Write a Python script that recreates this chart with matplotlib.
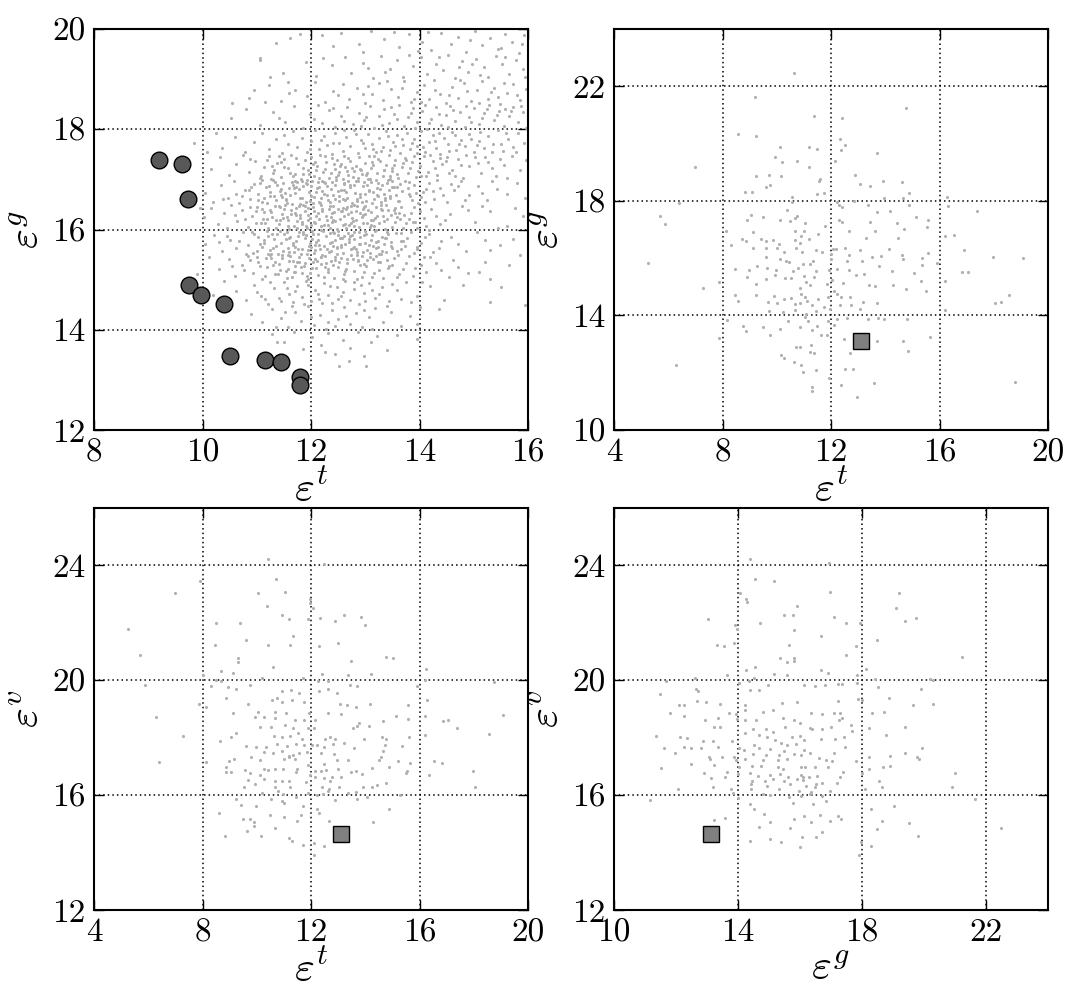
import matplotlib
matplotlib.use("Agg")
import matplotlib.pyplot as plt
import numpy as np

# ---- data (estimated) ----
# top-left: eps_t vs eps_g, dense cloud
tl_cloud = [
    (11.62,19.82),(12.20,19.88),(12.55,19.93),(12.88,19.71),(13.10,19.96),(13.35,19.80),(13.62,19.64),(13.81,19.90),(14.05,19.75),(14.22,19.58),
    (14.40,19.92),(14.58,19.70),(14.71,19.85),(14.86,19.55),(15.02,19.97),(15.15,19.68),(15.30,19.83),(15.44,19.60),(15.57,19.90),(15.70,19.74),
    (15.83,19.52),(15.92,19.88),(14.93,19.79),(13.97,19.57),(12.95,19.54),(15.50,19.62),(14.15,19.95),(13.52,19.94),(15.88,19.70),(12.40,19.66),
    (11.05,19.42),(11.48,19.13),(11.90,19.35),(12.10,19.06),(12.38,19.28),(12.62,19.45),(12.74,19.12),(12.96,19.33),(13.14,19.03),(13.28,19.47),
    (13.45,19.21),(13.58,19.38),(13.70,19.05),(13.88,19.26),(14.02,19.44),(14.14,19.10),(14.30,19.31),(14.44,19.18),(14.53,19.48),(14.66,19.02),
    (14.79,19.36),(14.90,19.15),(15.04,19.41),(15.18,19.24),(15.27,19.04),(15.40,19.46),(15.52,19.30),(15.64,19.11),(15.78,19.39),(15.90,19.20),
    (14.35,19.45),(13.80,19.49),(15.12,19.08),(14.72,19.25),(13.36,19.15),(12.22,19.42),(15.58,19.45),(14.96,19.30),(13.05,19.23),(15.95,19.04),
    (10.85,18.62),(11.22,18.88),(11.44,18.57),(11.70,18.79),(11.93,18.66),(12.08,18.95),(12.25,18.54),(12.41,18.77),(12.58,18.90),(12.70,18.60),
    (12.85,18.82),(12.99,18.52),(13.12,18.71),(13.25,18.93),(13.33,18.58),(13.47,18.80),(13.60,18.64),(13.72,18.97),(13.84,18.55),(13.95,18.75),
    (14.08,18.88),(14.18,18.60),(14.27,18.99),(14.37,18.70),(14.49,18.53),(14.60,18.84),(14.70,18.63),(14.82,18.92),(14.94,18.57),(15.05,18.78),
    (15.16,18.96),(15.26,18.61),(15.38,18.83),(15.49,18.51),(15.61,18.72),(15.73,18.90),(15.85,18.58),(15.96,18.80),(13.40,18.97),(14.55,18.68),
    (15.32,18.74),(13.90,18.61),(12.50,18.68),(14.88,18.76),(15.55,18.93),(14.02,18.54),(13.05,18.86),(15.80,18.68),(14.28,18.78),(12.95,18.70),
    (15.10,18.52),(13.68,18.82),(11.58,18.95),(14.75,18.98),(15.44,18.64),
    (10.52,18.22),(10.80,18.41),(11.05,18.08),(11.30,18.35),(11.52,18.15),(11.68,18.46),(11.85,18.02),(11.98,18.30),(12.12,18.48),(12.20,18.12),
    (12.33,18.38),(12.45,18.05),(12.56,18.27),(12.67,18.44),(12.78,18.10),(12.88,18.33),(12.97,18.18),(13.08,18.47),(13.16,18.03),(13.26,18.26),
    (13.35,18.40),(13.44,18.13),(13.53,18.31),(13.62,18.49),(13.71,18.06),(13.79,18.24),(13.88,18.42),(13.96,18.15),(14.05,18.36),(14.13,18.01),
    (14.22,18.21),(14.31,18.45),(14.40,18.09),(14.48,18.29),(14.57,18.47),(14.66,18.17),(14.74,18.35),(14.83,18.04),(14.92,18.25),(15.01,18.43),
    (15.10,18.11),(15.19,18.32),(15.28,18.48),(15.37,18.19),(15.46,18.37),(15.55,18.06),(15.64,18.27),(15.73,18.45),(15.82,18.14),(15.91,18.34),
    (15.97,18.03),(13.02,18.25),(13.58,18.20),(14.10,18.48),(14.62,18.39),(15.15,18.22),(12.60,18.16),(13.92,18.03),(14.85,18.46),(15.42,18.28),
    (12.05,18.21),(13.30,18.09),(14.35,18.30),(15.68,18.37),(12.40,18.43),(13.84,18.33),(14.95,18.14),(15.58,18.41),(11.40,18.23),(13.47,18.45),
    (14.52,18.05),(15.25,18.40),(12.92,18.06),(14.18,18.13),(15.87,18.47),
    (10.35,17.62),(10.60,17.85),(10.78,17.55),(10.95,17.74),(11.10,17.93),(11.22,17.60),(11.35,17.81),(11.47,17.52),(11.58,17.70),(11.66,17.96),
    (11.75,17.64),(11.84,17.83),(11.92,17.55),(12.00,17.76),(12.08,17.98),(12.15,17.61),(12.23,17.87),(12.30,17.68),(12.38,17.51),(12.45,17.92),
    (12.52,17.73),(12.58,17.57),(12.65,17.85),(12.72,17.66),(12.79,17.99),(12.86,17.53),(12.92,17.78),(12.99,17.62),(13.05,17.90),(13.12,17.70),
    (13.19,17.54),(13.25,17.82),(13.32,17.64),(13.38,17.96),(13.45,17.58),(13.51,17.75),(13.58,17.88),(13.64,17.52),(13.70,17.69),(13.77,17.93),
    (13.83,17.60),(13.90,17.80),(13.96,17.67),(14.03,17.97),(14.10,17.55),(14.17,17.74),(14.24,17.88),(14.31,17.63),(14.38,17.50),(14.45,17.83),
    (14.52,17.71),(14.60,17.95),(14.68,17.58),(14.76,17.79),(14.84,17.66),(14.92,17.90),(15.00,17.54),(15.09,17.77),(15.18,17.62),(15.27,17.86),
    (15.36,17.70),(15.45,17.98),(15.54,17.57),(15.63,17.81),(15.72,17.65),(15.82,17.92),(15.92,17.73),(12.40,17.73),(12.83,17.90),(13.15,17.61),
    (13.55,17.66),(13.95,17.53),(14.35,17.92),(14.72,17.70),(15.12,17.95),(15.50,17.70),(11.98,17.60),(12.60,17.98),(13.28,17.57),(13.68,17.80),
    (14.07,17.64),(14.55,17.56),(14.95,17.80),(15.33,17.55),(15.78,17.55),(11.50,17.88),(12.18,17.78),(12.95,17.72),(13.42,17.87),(13.86,17.72),
    (14.28,17.76),(14.65,17.88),(15.05,17.68),(15.60,17.92),
    (10.15,17.20),(10.32,17.44),(10.48,17.08),(10.62,17.31),(10.75,17.49),(10.86,17.15),(10.97,17.36),(11.06,17.02),(11.14,17.25),(11.22,17.46),
    (11.30,17.12),(11.37,17.33),(11.44,17.05),(11.51,17.41),(11.57,17.22),(11.63,17.48),(11.70,17.10),(11.76,17.30),(11.82,17.01),(11.88,17.38),
    (11.94,17.18),(12.00,17.45),(12.06,17.07),(12.11,17.27),(12.17,17.49),(12.22,17.14),(12.28,17.35),(12.33,17.03),(12.39,17.42),(12.44,17.21),
    (12.50,17.09),(12.55,17.31),(12.61,17.47),(12.66,17.16),(12.72,17.37),(12.77,17.04),(12.83,17.26),(12.88,17.44),(12.94,17.11),(12.99,17.33),
    (13.05,17.00),(13.10,17.23),(13.16,17.46),(13.21,17.13),(13.27,17.36),(13.32,17.06),(13.38,17.28),(13.43,17.48),(13.49,17.17),(13.55,17.39),
    (13.61,17.02),(13.67,17.24),(13.73,17.43),(13.79,17.12),(13.86,17.34),(13.93,17.05),(14.00,17.27),(14.08,17.47),(14.16,17.15),(14.24,17.37),
    (14.33,17.08),(14.42,17.30),(14.51,17.45),(14.60,17.19),(14.70,17.40),(14.80,17.03),(14.91,17.26),(15.02,17.44),(15.14,17.13),(15.27,17.35),
    (15.40,17.06),(15.55,17.29),(15.70,17.47),(15.86,17.18),(15.96,17.39),(11.40,17.47),(11.85,17.23),(12.25,17.46),(12.58,17.01),(12.91,17.21),
    (13.24,17.41),(13.58,17.10),(13.90,17.47),(14.28,17.22),(14.66,17.07),(15.08,17.33),(11.18,17.39),(11.66,17.06),(12.03,17.30),(12.36,17.12),
    (12.69,17.42),(13.01,17.08),(13.35,17.19),(13.70,17.32),(14.12,17.06),(14.48,17.36),(14.85,17.49),(15.34,17.22),(11.96,17.11),(12.47,17.38),
    (12.80,17.17),(13.13,17.35),(13.46,17.01),(13.82,17.22),(14.20,17.49),(14.55,17.12),(15.20,17.45),(15.62,17.03),(10.88,17.40),(11.28,17.27),
    (11.72,17.43),(12.14,17.03),(12.63,17.24),(13.07,17.46),(13.52,17.28),(13.97,17.16),(14.38,17.42),(14.76,17.28),(15.48,17.41),
    (10.05,16.72),(10.20,16.55),(10.34,16.88),(10.46,16.63),(10.58,16.96),(10.68,16.52),(10.78,16.79),(10.87,16.60),(10.95,16.91),(11.03,16.70),
    (11.10,16.54),(11.17,16.85),(11.24,16.66),(11.30,16.98),(11.36,16.58),(11.42,16.77),(11.48,16.93),(11.53,16.61),(11.59,16.82),(11.64,16.51),
    (11.70,16.72),(11.75,16.95),(11.80,16.63),(11.86,16.86),(11.91,16.55),(11.96,16.74),(12.01,16.97),(12.06,16.64),(12.11,16.83),(12.16,16.53),
    (12.21,16.76),(12.26,16.92),(12.31,16.59),(12.36,16.81),(12.41,16.68),(12.46,16.99),(12.51,16.56),(12.56,16.78),(12.61,16.90),(12.66,16.62),
    (12.71,16.84),(12.76,16.52),(12.81,16.73),(12.86,16.96),(12.91,16.65),(12.96,16.87),(13.01,16.57),(13.06,16.77),(13.11,16.94),(13.16,16.60),
    (13.22,16.82),(13.28,16.54),(13.34,16.71),(13.40,16.93),(13.46,16.63),(13.53,16.85),(13.60,16.56),(13.67,16.76),(13.74,16.97),(13.82,16.66),
    (13.90,16.88),(13.98,16.53),(14.07,16.74),(14.17,16.92),(14.27,16.61),(14.38,16.83),(14.50,16.55),(14.63,16.78),(14.77,16.96),(14.92,16.68),
    (15.08,16.87),(15.25,16.58),(15.43,16.81),(15.62,16.70),(15.80,16.93),(15.95,16.62),(10.62,16.70),(10.90,16.84),(11.14,16.62),(11.38,16.89),
    (11.62,16.68),(11.84,16.97),(12.04,16.52),(12.24,16.70),(12.44,16.88),(12.64,16.75),(12.84,16.60),(13.04,16.88),(13.24,16.67),(13.44,16.79),
    (13.64,16.91),(13.86,16.59),(14.12,16.81),(14.44,16.69),(14.84,16.58),(11.25,16.75),(11.55,16.53),(11.78,16.80),(12.00,16.86),(12.19,16.62),
    (12.39,16.95),(12.58,16.60),(12.79,16.89),(12.99,16.70),(13.19,16.98),(13.37,16.58),(13.57,16.69),(13.78,16.82),(14.02,16.64),(14.33,16.98),
    (14.70,16.86),(15.16,16.72),(11.06,16.93),(11.45,16.69),(11.93,16.91),(12.34,16.54),(12.68,16.97),(13.14,16.74),(13.50,16.96),(13.94,16.73),
    (14.58,16.91),(15.34,16.96),(10.38,16.60),(10.72,16.66),(11.67,16.88),(12.13,16.94),(12.52,16.67),(12.93,16.54),(13.31,16.88),
    (10.02,16.25),(10.15,16.42),(10.28,16.10),(10.40,16.33),(10.52,16.48),(10.63,16.16),(10.73,16.38),(10.83,16.05),(10.92,16.27),(11.00,16.45),
    (11.07,16.13),(11.14,16.35),(11.21,16.02),(11.28,16.24),(11.34,16.47),(11.40,16.11),(11.46,16.31),(11.52,16.49),(11.57,16.18),(11.63,16.39),
    (11.68,16.06),(11.73,16.28),(11.78,16.46),(11.83,16.14),(11.88,16.36),(11.93,16.03),(11.98,16.22),(12.03,16.44),(12.08,16.12),(12.13,16.32),
    (12.18,16.49),(12.23,16.08),(12.28,16.26),(12.33,16.41),(12.38,16.15),(12.43,16.34),(12.48,16.01),(12.53,16.21),(12.58,16.43),(12.63,16.10),
    (12.68,16.30),(12.73,16.47),(12.78,16.17),(12.83,16.37),(12.88,16.04),(12.93,16.25),(12.98,16.45),(13.04,16.13),(13.10,16.35),(13.16,16.07),
    (13.22,16.27),(13.28,16.48),(13.35,16.16),(13.42,16.38),(13.50,16.05),(13.58,16.24),(13.66,16.44),(13.75,16.12),(13.85,16.33),(13.96,16.02),
    (14.08,16.22),(14.22,16.41),(14.38,16.10),(14.56,16.30),(14.78,16.47),(15.02,16.15),(15.30,16.36),(15.62,16.06),(15.90,16.27),(10.45,16.02),
    (10.78,16.21),(11.10,16.40),(11.36,16.19),(11.60,16.01),(11.80,16.29),(12.00,16.09),(12.20,16.37),(12.40,16.47),(12.60,16.27),(12.80,16.06),
    (13.00,16.31),(13.20,16.45),(13.40,16.21),(13.62,16.33),(13.90,16.44),(14.30,16.26),(14.90,16.39),(11.18,16.20),(11.50,16.40),(11.74,16.16),
    (11.95,16.42),(12.15,16.20),(12.35,16.03),(12.55,16.36),(12.75,16.22),(12.95,16.40),(13.14,16.19),(13.37,16.01),(13.55,16.42),(13.80,16.20),
    (14.12,16.06),(10.60,16.29),(10.98,16.12),(11.42,16.45),(11.70,16.33),(11.90,16.07),(12.10,16.27),(12.30,16.19),(12.50,16.40),(12.70,16.08),
    (12.90,16.33),(13.08,16.05),(13.30,16.39),(13.48,16.29),(13.70,16.03),(14.00,16.37),(14.46,16.19),(15.15,16.46),(11.26,16.34),(11.85,16.49),
    (12.45,16.17),(12.85,16.46),(13.25,16.12),(13.92,16.15),(15.75,16.42),(10.88,16.44),(11.56,16.25),(12.64,16.40),
    (10.04,15.72),(10.22,15.90),(10.36,15.58),(10.50,15.80),(10.62,15.63),(10.74,15.95),(10.84,15.70),(10.93,15.53),(11.02,15.85),(11.10,15.66),
    (11.18,15.97),(11.25,15.60),(11.32,15.81),(11.39,15.51),(11.45,15.74),(11.51,15.92),(11.57,15.64),(11.62,15.86),(11.68,15.55),(11.73,15.77),
    (11.78,15.96),(11.83,15.62),(11.88,15.83),(11.93,15.52),(11.98,15.73),(12.03,15.91),(12.08,15.60),(12.13,15.80),(12.18,15.99),(12.23,15.67),
    (12.28,15.88),(12.33,15.56),(12.38,15.76),(12.43,15.94),(12.48,15.63),(12.53,15.84),(12.58,15.54),(12.63,15.72),(12.68,15.93),(12.73,15.61),
    (12.79,15.82),(12.85,15.50),(12.91,15.71),(12.97,15.90),(13.03,15.59),(13.10,15.79),(13.17,15.97),(13.24,15.65),(13.31,15.86),(13.39,15.55),
    (13.47,15.75),(13.56,15.93),(13.66,15.62),(13.77,15.84),(13.89,15.53),(14.02,15.74),(14.18,15.92),(14.36,15.64),(14.58,15.86),(14.85,15.58),
    (15.20,15.80),(15.48,15.69),(10.45,15.88),(10.80,15.51),(11.05,15.71),(11.28,15.91),(11.48,15.57),(11.66,15.70),(11.85,15.95),(12.00,15.65),
    (12.20,15.50),(12.40,15.68),(12.60,15.88),(12.80,15.66),(13.00,15.98),(13.20,15.76),(13.42,15.92),(13.65,15.77),(13.95,15.66),(14.40,15.78),
    (10.95,15.92),(11.36,15.68),(11.58,15.50),(11.76,15.88),(11.95,15.59),(12.15,15.69),(12.35,15.93),(12.55,15.65),(12.75,15.89),(12.95,15.56),
    (13.15,15.68),(13.36,15.84),(13.58,15.57),(13.84,15.95),(14.25,15.55),(11.20,15.52),(11.42,15.98),(11.70,15.65),(11.90,15.90),(12.10,15.76),
    (12.30,15.61),(12.50,15.97),(12.70,15.75),(12.88,15.96),(13.06,15.70),(13.28,15.52),(13.50,15.64),(13.74,15.68),(14.10,15.85),(14.70,15.72),
    (15.05,15.95),(10.30,15.75),(10.68,15.78),(11.14,15.79),(11.54,15.82),(12.05,15.53),(12.45,15.79),(12.82,15.62),(13.12,15.89),
    (10.30,15.22),(10.48,15.41),(10.60,15.08),(10.72,15.30),(10.83,15.47),(10.93,15.14),(11.02,15.35),(11.10,15.02),(11.18,15.26),(11.26,15.44),
    (11.33,15.11),(11.40,15.32),(11.47,15.49),(11.53,15.17),(11.59,15.38),(11.65,15.05),(11.71,15.27),(11.77,15.45),(11.83,15.13),(11.89,15.34),
    (11.95,15.01),(12.01,15.23),(12.07,15.42),(12.13,15.10),(12.19,15.31),(12.25,15.48),(12.31,15.16),(12.37,15.37),(12.43,15.04),(12.49,15.25),
    (12.55,15.43),(12.61,15.12),(12.67,15.33),(12.73,15.49),(12.80,15.18),(12.87,15.39),(12.94,15.06),(13.01,15.28),(13.08,15.46),(13.16,15.14),
    (13.24,15.35),(13.33,15.03),(13.42,15.24),(13.52,15.44),(13.63,15.12),(13.75,15.33),(13.88,15.07),(14.03,15.29),(14.20,15.46),(14.40,15.20),
    (14.62,15.40),(14.90,15.13),(15.20,15.36),(15.30,15.02),(10.55,15.28),(10.88,15.40),(11.15,15.08),(11.42,15.20),(11.62,15.48),(11.82,15.26),
    (12.04,15.36),(12.24,15.06),(12.44,15.46),(12.64,15.21),(12.84,15.02),(13.04,15.40),(13.26,15.19),(13.50,15.30),(13.80,15.48),(14.12,15.16),
    (11.00,15.46),(11.30,15.30),(11.55,15.03),(11.75,15.36),(11.98,15.14),(12.18,15.45),(12.40,15.29),(12.58,15.02),(12.78,15.42),(12.98,15.15),
    (13.20,15.47),(13.40,15.40),(13.70,15.22),(14.30,15.33),(10.76,15.19),(11.24,15.49),(11.68,15.16),(12.10,15.24),(12.52,15.35),(12.90,15.29),
    (13.12,15.05),(13.58,15.05),(14.55,15.05),
    (10.62,14.78),(10.80,14.60),(10.95,14.90),(11.08,14.68),(11.20,14.52),(11.31,14.83),(11.41,14.64),(11.50,14.96),(11.59,14.71),(11.67,14.55),
    (11.75,14.87),(11.83,14.66),(11.91,14.98),(11.99,14.58),(12.07,14.79),(12.15,14.62),(12.23,14.93),(12.31,14.70),(12.39,14.53),(12.47,14.85),
    (12.55,14.67),(12.63,14.97),(12.71,14.60),(12.79,14.81),(12.88,14.51),(12.97,14.74),(13.07,14.94),(13.18,14.63),(13.30,14.86),(13.43,14.57),
    (13.58,14.79),(13.75,14.95),(13.95,14.68),(14.20,14.88),(14.45,14.60),(11.00,14.76),(11.25,14.96),(11.45,14.58),(11.70,14.78),(11.95,14.90),
    (12.12,14.72),(12.35,14.88),(12.58,14.76),(12.80,14.95),(13.00,14.58),(13.25,14.72),(13.50,14.92),(13.85,14.55),(11.15,14.62),(11.55,14.84),
    (11.87,14.52),(12.20,14.54),(12.50,14.62),(12.92,14.90),(13.12,14.80),(13.65,14.62),(14.05,14.95),(15.30,14.55),
    (10.90,14.32),(11.10,14.15),(11.28,14.42),(11.44,14.23),(11.58,14.05),(11.70,14.36),(11.82,14.18),(11.94,14.47),(12.05,14.10),(12.16,14.30),
    (12.27,14.02),(12.38,14.40),(12.49,14.21),(12.60,14.45),(12.71,14.12),(12.82,14.33),(12.94,14.06),(13.06,14.26),(13.18,14.44),(13.32,14.15),
    (13.48,14.35),(13.65,14.08),(13.82,14.28),(14.00,14.46),(11.35,14.05),(11.65,14.48),(12.00,14.25),(12.32,14.15),(12.65,14.28),(12.98,14.40),
    (13.40,14.48),(13.95,14.12),(11.52,14.35),(12.45,14.08),(13.12,14.02),(14.35,14.42),
    (11.28,13.92),(11.50,13.75),(11.68,13.96),(11.85,13.62),(12.02,13.85),(12.18,13.70),(12.32,13.93),(12.45,13.52),(12.58,13.80),(12.72,13.64),
    (12.86,13.95),(12.98,13.48),(13.10,13.76),(13.22,13.88),(13.40,13.60),(13.58,13.90),(12.70,13.38),(13.02,13.28),(12.52,13.28),(11.38,13.75),
    (13.95,13.82),(12.25,13.55),
    (9.85,17.72),(10.08,17.55),(10.25,17.92),(9.95,16.42),(10.12,15.45),(9.90,15.12),(10.40,14.98),(10.20,14.70),(10.55,18.52),(10.95,18.78),
    (11.25,19.05),(11.05,19.38),(11.35,19.72),(11.80,19.90),(11.60,18.72),(11.15,18.55),(14.80,14.90),(15.10,15.15),(15.50,14.85),(15.30,15.60),
    (15.65,15.30),(15.85,15.50),(14.70,15.25),(15.95,14.50),(15.45,16.02),(15.72,15.82),
]

# extra points filling the densest part of the top-left cloud
tl_core = [
    (11.03,16.58),(11.21,15.87),(11.33,16.94),(11.47,15.43),(11.61,17.12),(11.74,16.03),(11.87,15.28),(11.99,16.67),(12.12,15.91),(12.26,17.21),
    (12.37,15.58),(12.49,16.76),(12.62,15.17),(12.74,16.35),(12.86,17.03),(12.99,15.74),(13.13,16.53),(13.27,15.36),(13.41,16.98),(13.55,16.14),
    (11.12,16.21),(11.29,15.63),(11.41,16.47),(11.56,15.96),(11.69,16.82),(11.81,15.51),(11.94,16.29),(12.07,17.34),(12.19,16.06),(12.31,15.22),
    (12.44,16.61),(12.57,15.83),(12.69,17.09),(12.82,16.18),(12.94,15.47),(13.07,16.79),(13.20,15.99),(13.34,17.18),(13.48,15.68),(13.63,16.57),
    (10.92,15.96),(11.08,17.07),(11.24,16.38),(11.39,15.12),(11.52,16.72),(11.66,15.74),(11.79,16.51),(11.92,15.07),(12.05,16.15),(12.17,15.62),
    (12.29,16.87),(12.41,15.95),(12.54,17.26),(12.66,15.41),(12.79,16.49),(12.91,15.86),(13.04,17.12),(13.17,16.23),(13.31,15.58),(13.45,16.66),
    (11.17,15.44),(11.35,16.03),(11.50,17.24),(11.63,16.31),(11.77,15.35),(11.90,16.93),(12.02,15.82),(12.15,16.54),(12.27,15.33),(12.40,16.18),
    (12.52,17.14),(12.65,16.02),(12.77,15.64),(12.90,16.71),(13.02,15.92),(13.15,17.29),(13.29,16.41),(13.43,15.27),(13.58,16.84),(13.72,16.28),
    (10.98,16.36),(11.14,15.73),(11.31,16.66),(11.45,17.35),(11.59,15.84),(11.72,16.42),(11.85,17.11),(11.97,15.43),(12.10,16.74),(12.22,15.98),
    (12.35,16.46),(12.47,15.52),(12.60,16.93),(12.72,15.88),(12.85,16.56),(12.97,15.31),(13.10,16.08),(13.24,16.92),(13.38,15.83),(13.52,16.39),
    (11.26,17.01),(11.43,16.18),(11.58,15.21),(11.71,16.97),(11.84,16.11),(11.96,15.68),(12.09,17.19),(12.21,16.41),(12.34,15.74),(12.46,17.05),
    (12.59,16.09),(12.71,16.88),(12.84,15.55),(12.96,16.28),(13.09,17.01),(13.23,15.77),(13.36,16.63),(13.50,17.23),(13.66,15.94),(13.81,16.71),
    (11.06,15.27),(11.22,16.86),(11.37,15.92),(11.54,16.59),(11.67,15.38),(11.80,16.23),(11.93,16.99),(12.06,16.36),(12.18,15.45),(12.30,16.69),
    (12.42,17.31),(12.55,15.69),(12.67,16.44),(12.80,15.96),(12.92,17.19),(13.05,16.38),(13.19,15.63),(13.32,16.26),(13.46,17.07),(13.61,15.49),
    (11.19,16.52),(11.33,15.36),(11.49,16.23),(11.64,16.94),(11.76,15.62),(11.89,16.46),(12.01,15.97),(12.14,16.85),(12.25,15.26),(12.38,16.32),
    (12.50,15.89),(12.63,16.58),(12.75,17.22),(12.88,15.72),(13.00,16.47),(13.14,15.41),(13.27,16.81),(13.40,15.96),(13.55,16.32),(13.70,15.78),
    (10.86,16.78),(11.00,15.58),(11.16,16.13),(11.32,17.18),(11.46,16.64),(11.60,15.55),(11.73,16.85),(11.86,15.91),(11.98,16.57),(12.11,15.37),
    (12.24,16.94),(12.36,16.24),(12.48,15.66),(12.61,16.79),(12.73,16.12),(12.86,15.38),(12.98,16.94),(13.11,16.19),(13.25,15.52),(13.39,16.48),
    (11.10,16.98),(11.27,15.52),(11.44,16.81),(11.57,16.07),(11.70,15.16),(11.83,16.62),(11.95,16.18),(12.08,15.69),(12.20,16.96),(12.32,16.09),
    (12.45,15.39),(12.57,16.37),(12.70,15.81),(12.83,16.97),(12.95,16.13),(13.08,15.54),(13.21,16.69),(13.35,15.71),(13.49,16.84),(13.64,16.20),
    (13.80,16.95),(13.95,15.62),(14.10,16.55),(13.88,16.14),(14.02,17.06),(14.18,15.99),(13.75,17.38),(14.25,16.77),(13.92,15.23),(14.08,15.45),
]

# the eleven large circles (eps_t, eps_g)
circ_t = [9.19, 9.63, 9.73, 9.75, 9.97, 10.40, 10.51, 11.15, 11.45, 11.79, 11.79]
circ_g = [17.38, 17.31, 16.60, 14.90, 14.69, 14.52, 13.47, 13.39, 13.36, 13.06, 12.90]

# the square marker (eps_t, eps_g, eps_v)
sq_t, sq_g, sq_v = 13.10, 13.12, 14.65

# top-right: eps_t vs eps_g
tr_cloud = [
    (10.65,22.48),(9.21,21.63),(14.78,21.24),(11.37,20.98),(12.39,20.89),(8.57,20.34),(9.24,20.27),(12.32,20.17),(12.51,19.94),(10.12,19.88),
    (11.19,19.88),(11.47,19.80),(12.35,19.76),(13.68,19.67),(9.95,19.53),(10.76,19.38),(10.18,19.36),(12.16,19.38),(6.99,19.18),(11.18,19.18),
    (9.22,18.86),(9.72,18.89),(10.14,18.86),(12.88,18.92),(11.60,18.76),(11.55,18.68),(13.06,18.58),(13.43,18.53),(9.74,18.57),(9.59,18.48),
    (8.84,18.31),(9.08,18.32),(13.90,18.68),(14.63,18.67),(14.88,18.27),(11.73,18.27),(11.47,18.24),(10.56,18.15),(10.56,17.97),(13.97,18.09),
    (16.29,18.12),(14.66,18.10),(6.39,17.94),(12.21,17.97),(12.28,17.84),(12.39,17.80),(12.83,17.98),(13.36,17.86),(16.33,17.82),(17.37,17.66),
    (14.89,17.84),(14.16,17.66),(13.71,17.60),(10.37,17.67),(9.05,17.49),(5.70,17.48),(9.51,17.45),(10.76,17.46),(10.66,17.40),(10.12,17.33),
    (10.48,17.29),(8.90,17.34),(11.04,17.24),(5.87,17.18),(12.28,17.32),(12.41,17.26),(11.79,17.13),(14.44,17.23),(13.43,17.26),(15.12,17.45),
    (15.58,17.33),(15.54,17.10),(14.68,17.02),(12.68,16.96),(13.62,16.96),(8.13,16.96),(9.13,16.90),(10.68,16.94),(11.02,16.94),(10.89,16.78),
    (11.52,16.83),(16.22,16.78),(16.55,16.82),(8.70,16.68),(8.87,16.61),(9.43,16.66),(9.62,16.60),(9.87,16.63),(10.66,16.62),(11.18,16.67),
    (13.28,16.71),(14.47,16.70),(8.31,16.47),(10.07,16.51),(10.85,16.54),(9.11,16.35),(9.62,16.35),(10.01,16.35),(10.70,16.35),(11.43,16.28),
    (12.07,16.33),(12.18,16.31),(12.50,16.34),(13.05,16.27),(14.14,16.33),(16.90,16.30),(11.65,16.20),(10.94,16.23),(10.26,16.20),(12.00,16.16),
    (12.66,16.12),(13.86,16.07),(14.63,16.12),(15.58,16.19),(17.97,16.03),(19.06,16.00),(5.25,15.82),(9.62,16.03),(10.12,15.98),(10.33,15.91),
    (10.45,15.85),(10.95,15.78),(11.22,15.79),(11.33,15.91),(12.00,15.97),(12.58,15.91),(13.13,15.91),(13.51,16.03),(14.66,15.98),(15.37,16.00),
    (15.91,15.83),(8.47,15.63),(8.99,15.59),(9.27,15.74),(9.65,15.66),(9.97,15.60),(10.59,15.56),(10.79,15.66),(11.43,15.54),(11.94,15.59),
    (12.23,15.63),(12.65,15.60),(12.93,15.42),(13.77,15.71),(14.23,15.56),(15.05,15.48),(15.36,15.75),(17.05,15.52),(16.83,15.52),(7.88,15.17),
    (8.92,15.33),(9.24,15.10),(9.62,15.28),(9.93,15.42),(10.32,15.31),(10.51,15.31),(11.00,15.36),(11.36,15.35),(11.07,15.17),(10.86,14.96),
    (11.23,15.05),(11.85,15.10),(12.04,15.22),(12.44,15.13),(13.23,15.44),(13.40,15.05),(13.63,15.01),(14.29,15.05),(14.75,14.92),(15.32,15.21),
    (15.49,14.84),(16.20,15.19),(7.29,14.95),(8.47,14.73),(8.57,14.52),(9.25,14.70),(9.91,14.69),(9.69,14.48),(10.28,14.59),(10.00,14.43),
    (10.54,14.60),(10.66,14.41),(10.91,14.75),(11.03,14.63),(10.85,14.43),(11.13,14.49),(11.31,14.35),(11.53,14.59),(11.73,14.31),(11.90,14.63),
    (12.12,14.84),(12.23,14.75),(12.37,14.63),(12.32,14.38),(12.71,14.65),(13.17,14.47),(13.68,14.44),(18.28,14.46),(18.57,14.70),(18.04,14.43),
    (9.72,14.16),(10.23,14.12),(10.66,14.19),(11.06,14.05),(11.46,14.17),(11.98,14.22),(12.75,14.36),(13.06,14.21),(16.21,14.19),(8.16,13.85),
    (8.76,13.64),(8.85,13.44),(9.49,13.59),(9.76,13.30),(10.12,13.54),(10.42,13.79),(11.03,13.96),(11.14,13.79),(10.85,13.58),(11.29,13.50),
    (11.50,13.62),(11.62,13.33),(11.85,13.30),(11.90,13.79),(12.12,13.65),(12.21,13.88),(12.59,13.91),(13.36,13.88),(13.75,13.91),(13.94,13.88),
    (14.80,13.88),(7.88,13.21),(12.49,13.19),(13.68,13.10),(14.65,13.11),(14.83,12.77),(15.65,13.26),(12.70,12.68),(10.16,12.63),(10.28,12.52),
    (10.71,12.91),(10.86,12.91),(11.27,12.98),(11.23,12.71),(11.36,12.69),(10.62,12.37),(10.91,12.28),(11.45,12.08),(10.96,12.01),(12.51,12.14),
    (12.82,12.14),(6.29,12.28),(11.93,11.81),(12.36,11.56),(13.57,11.63),(11.31,11.49),(11.31,11.37),(12.96,11.16),(18.77,11.66),
]

# bottom-left: eps_t vs eps_v
bl_cloud = [
    (10.40,24.23),(12.48,24.06),(10.71,23.51),(7.89,23.47),(6.98,23.03),(10.06,23.04),(11.05,23.07),(11.95,22.83),(11.95,22.69),(10.36,22.57),
    (12.06,22.50),(10.94,22.29),(13.23,22.29),(11.17,22.14),(11.89,22.14),(12.32,22.18),(13.83,22.22),(12.87,22.06),(8.48,22.00),(9.39,22.01),
    (13.99,21.92),(5.24,21.78),(11.34,21.55),(9.59,21.39),(10.42,21.22),(11.21,21.24),(12.28,21.20),(12.98,21.29),(8.47,21.22),(5.71,20.89),
    (14.75,20.82),(15.02,20.76),(9.31,20.76),(9.31,20.65),(13.49,20.68),(10.59,20.47),(16.23,20.38),(8.69,20.33),(9.13,20.27),(8.00,20.20),
    (10.18,20.09),(11.70,20.09),(12.41,20.23),(14.22,20.21),(13.37,20.18),(8.51,20.00),(8.69,19.96),(5.89,19.85),(16.19,20.00),(18.74,19.93),
    (12.27,19.97),(12.64,19.96),(8.30,19.79),(8.93,19.77),(9.75,19.83),(13.43,19.83),(13.70,19.79),(15.90,19.79),(9.22,19.68),(10.93,19.62),
    (11.26,19.65),(11.57,19.57),(12.30,19.62),(12.64,19.68),(12.97,19.56),(8.86,19.40),(10.74,19.40),(11.31,19.30),(16.29,19.33),(7.88,19.19),
    (8.14,19.07),(9.68,19.19),(10.56,19.30),(10.93,19.23),(11.73,19.25),(13.07,19.16),(14.16,19.16),(15.57,19.13),(13.32,19.13),(13.65,19.07),
    (6.29,18.72),(9.11,18.86),(10.06,18.88),(10.68,18.91),(11.06,18.86),(11.94,18.86),(12.64,18.86),(13.10,18.84),(15.12,18.77),(16.20,18.77),
    (19.07,18.80),(9.93,18.72),(10.27,18.72),(10.67,18.68),(11.40,18.60),(11.74,18.63),(12.16,18.60),(13.78,18.51),(14.66,18.58),(15.58,18.65),
    (16.88,18.58),(17.05,18.60),(10.53,18.39),(10.10,18.38),(11.05,18.43),(11.32,18.35),(11.88,18.35),(12.11,18.35),(13.56,18.35),(13.70,18.42),
    (14.15,18.40),(17.38,18.35),(9.25,18.17),(9.04,18.04),(7.27,18.05),(10.64,18.06),(10.92,18.02),(11.22,18.05),(11.53,18.16),(11.66,17.96),
    (12.52,17.96),(12.70,18.04),(12.90,17.96),(13.95,17.96),(14.60,18.02),(14.78,17.97),(15.62,18.02),(16.19,18.08),(18.55,18.12),(8.65,17.88),
    (9.60,17.71),(9.98,17.66),(10.34,17.67),(10.75,17.78),(11.10,17.71),(11.45,17.78),(11.74,17.76),(12.02,17.75),(12.22,17.73),(12.48,17.69),
    (12.81,17.78),(13.20,17.81),(13.60,17.64),(14.72,17.76),(15.37,17.70),(14.66,17.55),(10.27,17.49),(10.60,17.46),(10.93,17.53),(11.17,17.38),
    (11.35,17.40),(11.57,17.46),(11.84,17.49),(12.38,17.48),(12.83,17.43),(14.58,17.32),(14.49,17.22),(9.15,17.26),(8.98,17.18),(6.38,17.17),
    (8.13,17.14),(9.78,17.32),(10.10,17.22),(11.01,17.26),(11.19,17.32),(11.40,17.26),(11.88,17.06),(12.49,17.08),(12.97,17.22),(13.36,17.22),
    (15.19,17.18),(15.66,17.11),(16.54,17.18),(16.82,17.11),(8.86,16.97),(9.55,16.87),(10.27,16.91),(10.43,16.87),(10.67,16.90),(10.98,16.92),
    (11.49,16.90),(12.14,16.85),(12.35,16.83),(12.56,16.87),(12.98,16.90),(13.66,16.83),(14.24,16.94),(14.87,16.97),(17.96,16.85),(8.88,16.79),
    (9.06,16.79),(9.75,16.76),(10.11,16.69),(11.45,16.79),(11.95,16.71),(12.14,16.64),(12.76,16.64),(13.10,16.62),(13.49,16.79),(13.89,16.73),
    (15.49,16.76),(15.53,16.83),(16.33,16.69),(9.68,16.52),(10.27,16.55),(10.67,16.50),(10.93,16.50),(11.17,16.48),(11.82,16.45),(12.49,16.59),
    (12.70,16.50),(14.78,16.44),(9.52,16.29),(9.93,16.38),(10.68,16.29),(11.22,16.27),(12.41,16.29),(12.65,16.21),(13.04,16.27),(13.93,16.27),
    (14.23,16.29),(14.44,16.36),(18.05,16.27),(10.18,16.09),(10.77,16.15),(10.97,16.03),(11.88,16.08),(12.22,16.01),(12.44,16.03),(12.64,16.13),
    (13.36,16.06),(13.64,16.10),(15.27,16.01),(9.22,15.86),(10.53,15.88),(10.92,15.80),(11.01,15.74),(11.45,15.94),(12.88,15.82),(13.69,15.86),
    (14.08,15.92),(9.42,15.65),(9.98,15.62),(11.70,15.62),(12.22,15.51),(8.61,15.39),(10.48,15.30),(10.99,15.24),(11.64,15.30),(12.28,15.37),
    (14.89,15.51),(9.48,15.18),(9.75,15.16),(9.90,15.07),(11.49,15.10),(12.65,15.10),(14.28,15.07),(9.90,14.92),(10.67,14.86),(9.65,14.75),
    (8.83,14.57),(10.14,14.57),(11.19,14.51),(11.29,14.40),(12.11,14.34),(12.47,14.22),(11.72,14.25),(12.97,14.51),(12.11,13.93),
]

# bottom-right: eps_g vs eps_v
br_cloud = [
    (14.40,24.23),(16.93,24.07),(14.56,23.51),(15.16,23.46),(19.19,23.03),(14.08,23.03),(16.97,23.07),(14.27,22.84),(14.29,22.73),(15.90,22.57),
    (19.10,22.50),(15.47,22.29),(15.78,22.29),(17.11,22.22),(13.02,22.13),(19.74,22.17),(19.40,22.08),(14.71,22.00),(17.48,22.01),(17.94,22.01),
    (13.91,21.91),(13.96,21.79),(15.81,21.76),(16.67,21.55),(18.47,21.41),(13.88,21.29),(13.32,21.23),(13.56,21.20),(15.63,21.22),(17.82,21.21),
    (17.47,20.88),(21.24,20.82),(15.36,20.76),(15.82,20.79),(15.58,20.65),(15.79,20.67),(14.54,20.47),(14.27,20.36),(16.67,20.36),(16.89,20.26),
    (18.13,20.38),(13.63,20.20),(15.16,20.23),(15.58,20.20),(12.61,20.09),(14.51,20.09),(17.84,20.18),(18.43,20.03),(20.18,20.03),(20.28,20.00),
    (11.67,19.96),(14.02,19.91),(14.36,19.98),(14.98,19.83),(16.13,19.83),(16.47,19.79),(16.82,19.85),(17.22,19.88),(17.36,19.86),(17.83,19.89),
    (18.53,19.77),(12.64,19.68),(12.71,19.62),(14.38,19.65),(14.67,19.65),(19.89,19.68),(11.49,19.51),(17.87,19.34),(17.99,19.33),(18.86,19.40),
    (12.67,19.28),(12.97,19.25),(13.41,19.19),(14.24,19.15),(15.41,19.21),(15.89,19.23),(17.24,19.27),(19.66,19.13),(20.28,19.19),(12.11,19.15),
    (12.26,19.15),(11.80,18.87),(13.72,18.86),(13.93,18.84),(14.24,18.95),(14.80,18.90),(15.13,18.95),(16.34,18.86),(16.71,18.81),(17.10,18.86),
    (17.30,18.87),(18.32,18.86),(12.27,18.74),(12.93,18.60),(13.36,18.67),(13.97,18.65),(14.24,18.60),(14.58,18.63),(15.46,18.68),(15.79,18.60),
    (16.00,18.51),(17.27,18.63),(17.36,18.68),(18.71,18.89),(13.21,18.36),(13.42,18.36),(14.47,18.31),(14.91,18.31),(15.13,18.19),(15.52,18.39),
    (16.31,18.35),(16.39,18.30),(16.72,18.31),(17.00,18.37),(17.64,18.43),(18.24,18.35),(19.38,18.39),(11.37,18.05),(12.14,18.02),(12.36,17.98),
    (14.24,18.16),(14.69,18.08),(14.93,18.02),(15.20,17.93),(15.74,18.02),(15.99,18.05),(16.13,17.93),(16.69,17.97),(17.13,17.96),(17.41,18.02),
    (17.67,18.25),(18.78,18.11),(12.87,17.90),(13.19,17.88),(13.80,17.88),(14.50,17.76),(15.38,17.81),(15.58,17.76),(15.87,17.78),(17.44,17.69),
    (11.60,17.64),(12.26,17.69),(12.49,17.64),(12.82,17.63),(13.34,17.69),(14.04,17.64),(14.20,17.57),(14.69,17.64),(15.02,17.61),(15.47,17.55),
    (16.13,17.57),(19.94,17.64),(11.98,17.47),(19.39,17.48),(14.47,17.43),(14.91,17.40),(15.33,17.40),(15.80,17.43),(16.03,17.40),(16.32,17.48),
    (17.09,17.48),(18.21,17.32),(18.89,17.36),(13.06,17.32),(13.11,17.26),(13.47,17.32),(13.86,17.32),(13.93,17.22),(14.24,17.26),(14.80,17.22),
    (15.30,17.22),(15.58,17.25),(16.61,17.28),(16.83,17.22),(17.04,17.18),(17.82,17.18),(19.76,17.32),(19.84,17.25),(11.53,16.93),(12.48,17.08),
    (13.24,17.06),(14.02,16.99),(14.44,17.03),(14.73,17.03),(15.30,16.97),(15.44,16.91),(16.04,16.99),(16.17,16.97),(16.47,16.99),(16.91,16.97),
    (17.40,16.82),(18.24,16.90),(18.69,16.97),(18.91,17.03),(12.89,16.78),(13.66,16.79),(14.00,16.73),(14.38,16.76),(14.64,16.68),(15.02,16.71),
    (15.36,16.73),(15.61,16.64),(16.02,16.71),(16.09,16.62),(16.30,16.64),(16.56,16.68),(17.28,16.62),(18.01,16.78),(20.99,16.76),(13.58,16.62),
    (13.13,16.59),(14.44,16.50),(14.86,16.50),(15.13,16.55),(15.49,16.48),(15.91,16.56),(16.11,16.52),(16.52,16.38),(16.71,16.44),(17.19,16.44),
    (18.54,16.48),(14.42,16.38),(14.94,16.32),(15.69,16.38),(16.20,16.32),(16.47,16.27),(18.63,16.27),(20.91,16.27),(12.08,16.23),(13.19,16.27),
    (13.77,16.23),(14.43,16.23),(15.31,16.21),(15.97,16.15),(16.36,16.11),(16.97,16.15),(18.11,16.21),(13.83,16.09),(14.00,15.89),(14.80,16.03),
    (15.02,16.01),(15.63,15.94),(16.02,15.97),(16.31,16.03),(16.71,15.97),(11.17,15.82),(14.39,15.68),(15.78,15.74),(16.41,15.68),(16.83,15.78),
    (21.63,15.86),(14.50,15.51),(14.83,15.36),(16.13,15.27),(16.64,15.30),(17.24,15.27),(18.29,15.51),(19.02,15.62),(13.58,15.19),(13.24,15.13),
    (15.02,15.07),(15.81,15.16),(16.36,15.06),(16.97,15.10),(17.33,15.16),(18.63,15.10),(19.52,15.04),(14.67,14.89),(15.69,14.84),(18.47,14.81),
    (22.47,14.86),(16.71,14.72),(16.52,14.55),(16.08,14.55),(15.04,14.49),(19.82,14.57),(14.40,14.42),(15.38,14.36),(17.97,14.36),(16.00,14.20),
    (18.30,14.22),(17.91,13.93),
]

# axis ranges and tick labels
t_lim_top, g_lim_top = (8, 16), (12, 20)
t_ticks_top, g_ticks_top = [8, 10, 12, 14, 16], [12, 14, 16, 18, 20]
t_lim_wide, t_ticks_wide = (4, 20), [4, 8, 12, 16, 20]
g_lim_wide, g_ticks_wide = (10, 24), [10, 14, 18, 22]
g_lim_br, g_ticks_br = (10, 24), [10, 14, 18, 22]
v_lim, v_ticks = (12, 26), [12, 16, 20, 24]

lab_t = r"$\varepsilon^t$"
lab_g = r"$\varepsilon^g$"
lab_v = r"$\varepsilon^v$"

plt.rcParams["font.family"] = "serif"
plt.rcParams["font.serif"] = ["cmr10", "DejaVu Serif"]
plt.rcParams["mathtext.fontset"] = "cm"
plt.rcParams["axes.unicode_minus"] = False


def setup(ax, pts, xlim, ylim, xticks, yticks, xlabel, ylabel):
    x, y = np.array(pts).T
    ax.scatter(x, y, s=5, c="#b0b0b0", linewidths=0, zorder=2)
    ax.set_xlim(xlim)
    ax.set_ylim(ylim)
    ax.set_xticks(xticks)
    ax.set_yticks(yticks)
    ax.set_xticklabels([str(v) for v in xticks])
    ax.set_yticklabels([str(v) for v in yticks])
    ax.grid(True, color="k", linestyle=(0, (1, 2)), linewidth=1.1, zorder=1)
    ax.set_axisbelow(True)
    ax.tick_params(direction="in", top=True, right=True, length=7, width=1,
                   labelsize=24)
    ax.tick_params(axis="x", pad=6)
    ax.tick_params(axis="y", pad=6)
    ax.set_xlabel(xlabel, fontsize=31, labelpad=2)
    ax.set_ylabel(ylabel, fontsize=31, labelpad=4)
    for sp in ax.spines.values():
        sp.set_linewidth(1.5)


fig = plt.figure(figsize=(10.81, 10.0), dpi=100)
ax1 = fig.add_axes([0.087, 0.570, 0.4015, 0.401])
ax2 = fig.add_axes([0.568, 0.570, 0.4015, 0.401])
ax3 = fig.add_axes([0.087, 0.090, 0.4015, 0.402])
ax4 = fig.add_axes([0.568, 0.090, 0.4015, 0.402])

setup(ax1, tl_cloud + tl_core, t_lim_top, g_lim_top, t_ticks_top, g_ticks_top, lab_t, lab_g)
ax1.plot(circ_t, circ_g, "o", ms=12, mfc="#585858", mec="k", mew=1, zorder=3)

setup(ax2, tr_cloud, t_lim_wide, g_lim_wide, t_ticks_wide, g_ticks_wide, lab_t, lab_g)
ax2.plot([sq_t], [sq_g], "s", ms=11, mfc="#808080", mec="k", mew=1, zorder=3)

setup(ax3, bl_cloud, t_lim_wide, v_lim, t_ticks_wide, v_ticks, lab_t, lab_v)
ax3.plot([sq_t], [sq_v], "s", ms=11, mfc="#808080", mec="k", mew=1, zorder=3)

setup(ax4, br_cloud, g_lim_br, v_lim, g_ticks_br, v_ticks, lab_g, lab_v)
ax4.plot([sq_g], [sq_v], "s", ms=11, mfc="#808080", mec="k", mew=1, zorder=3)

fig.savefig("out.png", dpi=100)
